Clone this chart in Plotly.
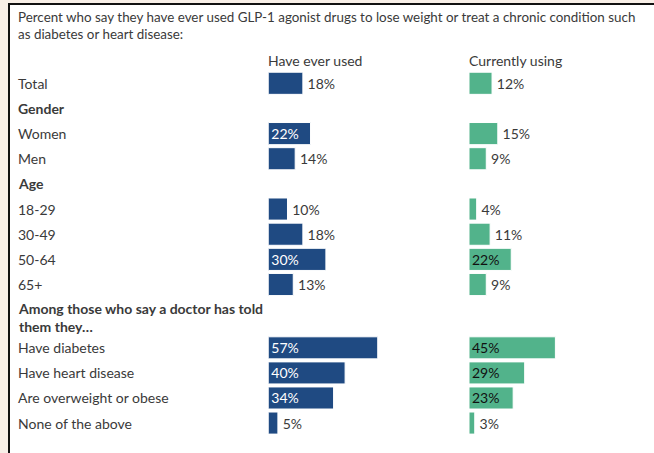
import plotly.graph_objects as go

# ---- data ----
title_text = ("Percent who say they have ever used GLP-1 agonist drugs to lose weight or treat a chronic condition such"
              "<br>as diabetes or heart disease:")
col_headers = ["Have ever used", "Currently using"]

upper_rows = ["Total", "Gender", "Women", "Men", "Age", "18-29", "30-49", "50-64", "65+"]
upper_is_header = [False, True, False, False, True, False, False, False, False]
upper_ever = [18, None, 22, 14, None, 10, 18, 30, 13]
upper_current = [12, None, 15, 9, None, 4, 11, 22, 9]

lower_header = "Among those who say a doctor has told<br>them they…"
lower_rows = ["Have diabetes", "Have heart disease", "Are overweight or obese", "None of the above"]
lower_ever = [57, 40, 34, 5]
lower_current = [45, 29, 23, 3]

# ---- style ----
W, H = 654, 453
BLUE = "#1f4a82"
GREEN = "#52b38b"
TXT = "#3a3a3a"
FONT = "Lato"
FS = 14
XMAX = 90

def py(px):
    return 1 - px / H

def px_x(px):
    return px / W

left_dom = [px_x(268.3), px_x(268.3 + 1.92 * XMAX)]
right_dom = [px_x(469), px_x(469 + 1.92 * XMAX)]
upper_dom = [py(297.1), py(70.7)]
lower_dom = [py(435.6), py(335.3)]

fig = go.Figure()

def add_bars(vals, cats, color, inside_color, xa, ya):
    pos = ["inside" if (v is not None and v >= 20) else "outside" for v in vals]
    txt = []
    for v, p in zip(vals, pos):
        if v is None:
            txt.append("")
        elif p == "outside":
            txt.append(f"\u2009{v}%")
        else:
            txt.append(f"{v}%")
    fig.add_trace(go.Bar(
        x=vals, y=cats, orientation="h", xaxis=xa, yaxis=ya,
        marker=dict(color=color, line=dict(color="white", width=1)),
        text=txt, textposition=pos, insidetextanchor="start",
        insidetextfont=dict(color=inside_color, family=FONT, size=FS),
        outsidetextfont=dict(color=TXT, family=FONT, size=FS),
        constraintext="none", cliponaxis=False, hoverinfo="skip",
        showlegend=False,
    ))

add_bars(upper_ever, upper_rows, BLUE, "white", "x", "y")
add_bars(upper_current, upper_rows, GREEN, "#111111", "x2", "y")
add_bars(lower_ever, lower_rows, BLUE, "white", "x3", "y2")
add_bars(lower_current, lower_rows, GREEN, "#111111", "x4", "y2")

hidden = dict(visible=False, showgrid=False, zeroline=False, fixedrange=True)
fig.update_layout(
    width=W, height=H,
    margin=dict(l=0, r=0, t=0, b=0),
    paper_bgcolor="#f8efe7",
    plot_bgcolor="rgba(0,0,0,0)",
    bargap=0.12,
    font=dict(family=FONT, size=FS, color=TXT),
    xaxis=dict(domain=left_dom, range=[0, XMAX], anchor="y", **hidden),
    xaxis2=dict(domain=right_dom, range=[0, XMAX], anchor="y", **hidden),
    xaxis3=dict(domain=left_dom, range=[0, XMAX], anchor="y2", **hidden),
    xaxis4=dict(domain=right_dom, range=[0, XMAX], anchor="y2", **hidden),
    yaxis=dict(domain=upper_dom, type="category", categoryarray=upper_rows,
               range=[len(upper_rows) - 0.5, -0.5], anchor="x", **hidden),
    yaxis2=dict(domain=lower_dom, type="category", categoryarray=lower_rows,
                range=[len(lower_rows) - 0.5, -0.5], anchor="x3", **hidden),
)

# white card with dark border
fig.add_shape(type="rect", xref="paper", yref="paper",
              x0=px_x(9), x1=1.05, y0=-0.05, y1=py(4),
              fillcolor="white", line=dict(color="#111111", width=2), layer="below")

ann = []
ann.append(dict(text=title_text, xref="paper", yref="paper", x=px_x(16), y=py(7),
                xanchor="left", yanchor="top", align="left", showarrow=False,
                font=dict(family=FONT, size=13.4, color=TXT)))
for h, xr in zip(col_headers, ["x", "x2"]):
    ann.append(dict(text=h, xref=xr, yref="paper", x=0, y=py(60),
                    xanchor="left", yanchor="middle", showarrow=False, xshift=-2,
                    font=dict(family=FONT, size=FS, color=TXT)))
for r, is_h in zip(upper_rows, upper_is_header):
    ann.append(dict(text=f"<b>{r}</b>" if is_h else r, xref="paper", yref="y", x=px_x(16), y=r,
                    xanchor="left", yanchor="middle", showarrow=False,
                    font=dict(family=FONT, size=FS, color=TXT)))
ann.append(dict(text=f"<b>{lower_header}</b>", xref="paper", yref="paper", x=px_x(16), y=py(317.5),
                xanchor="left", yanchor="middle", align="left", showarrow=False,
                font=dict(family=FONT, size=FS, color=TXT)))
for r in lower_rows:
    ann.append(dict(text=r, xref="paper", yref="y2", x=px_x(16), y=r,
                    xanchor="left", yanchor="middle", showarrow=False,
                    font=dict(family=FONT, size=FS, color=TXT)))
fig.update_layout(annotations=ann)

fig.write_html("out.html")
